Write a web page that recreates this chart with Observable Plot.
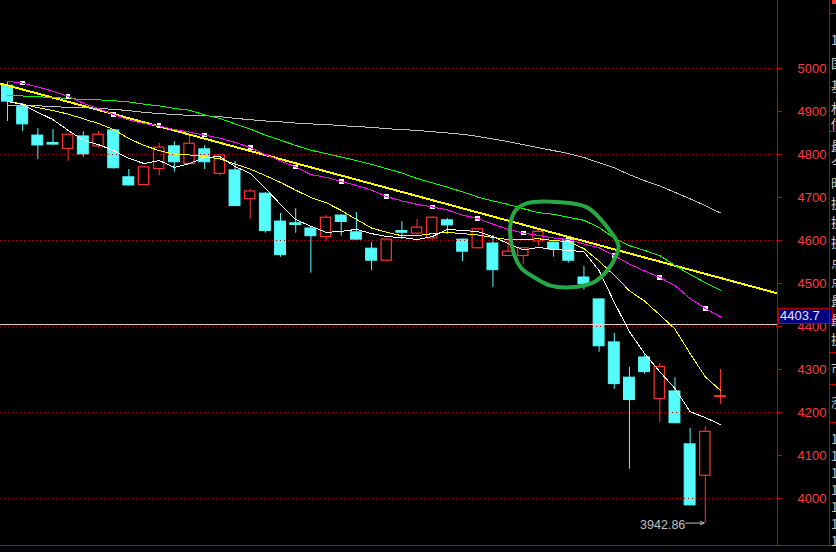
<!DOCTYPE html>
<html><head><meta charset="utf-8">
<script src="https://cdn.jsdelivr.net/npm/d3@7"></script>
<script src="https://cdn.jsdelivr.net/npm/@observablehq/plot@0.6"></script>
<style>
html,body{margin:0;padding:0;background:#000;overflow:hidden;}
#wrap{position:relative;width:836px;height:552px;overflow:hidden;background:#000;}
#wrap svg{position:absolute;left:0;top:0;}
.ov{position:absolute;}
</style></head><body><div id="wrap"></div>
<script>
// ---- data ----
const open  = [4960,4910,4844,4827,4813,4842,4819,4856,4747,4729,4766,4819,4778,4812,4755,4763,4696,4709,4644,4640,4628,4608,4658,4619,4581,4553,4622,4616,4605,4647,4602,4582,4593,4564,4564,4598,4595,4602,4514,4463,4363,4281,4328,4231,4249,4126,4053,4236];
const close = [4923,4870,4821,4823,4846,4800,4846,4768,4728,4770,4816,4782,4825,4782,4798,4680,4714,4622,4566,4636,4610,4653,4643,4602,4553,4602,4618,4630,4653,4635,4574,4626,4531,4574,4582,4620,4579,4553,4498,4354,4266,4229,4294,4306,4175,3984,4155,4238];
const high  = [4967,4919,4860,4858,4846,4853,4853,4858,4765,4774,4826,4830,4844,4821,4800,4784,4719,4711,4663,4674,4630,4658,4660,4665,4595,4603,4644,4649,4655,4651,4604,4628,4612,4600,4583,4623,4596,4608,4540,4463,4384,4305,4337,4314,4281,4163,4167,4300];
const low   = [4877,4853,4788,4821,4784,4794,4815,4766,4726,4728,4750,4759,4778,4765,4750,4680,4649,4617,4561,4617,4524,4598,4610,4598,4530,4551,4602,4612,4601,4614,4551,4580,4491,4563,4543,4587,4561,4547,4485,4340,4254,4068,4289,4177,4175,3984,3942.86,4219];

const ma5  = [4923,4916,4898,4881,4856,4833,4823,4809,4791,4779,4786,4770,4779,4793,4795,4772,4756,4721,4684,4649,4633,4619,4621,4626,4616,4609,4607,4602,4609,4626,4623,4621,4609,4593,4578,4584,4579,4577,4574,4530,4456,4388,4337,4295,4256,4202,4188,4172];
const ma10 = [4924,4917,4909,4902,4894,4883,4872,4858,4837,4821,4809,4801,4799,4795,4790,4778,4766,4751,4735,4717,4700,4688,4670,4649,4629,4619,4611,4611,4616,4619,4616,4613,4607,4602,4602,4604,4600,4597,4581,4552,4519,4483,4459,4427,4394,4337,4283,4251];
const ma20 = [4970,4966,4957,4947,4935,4919,4907,4893,4880,4872,4867,4858,4852,4845,4838,4828,4816,4800,4785,4771,4753,4747,4737,4728,4717,4702,4692,4684,4678,4671,4659,4651,4638,4626,4617,4612,4606,4602,4592,4583,4565,4545,4529,4514,4495,4465,4442,4422];
const ma30 = [4937,4936,4934,4933,4930,4928,4927,4925,4922,4917,4913,4907,4903,4892,4884,4871,4859,4845,4833,4821,4810,4802,4794,4786,4777,4767,4757,4744,4734,4724,4713,4701,4692,4684,4674,4665,4661,4654,4647,4630,4606,4588,4577,4565,4542,4521,4502,4484];
const ma60 = [4915,4914,4913,4912,4909,4909,4907,4905,4902,4898,4895,4893,4891,4890,4888,4884,4881,4878,4876,4873,4871,4870,4867,4865,4863,4860,4858,4856,4853,4850,4847,4842,4836,4830,4823,4816,4809,4802,4793,4781,4769,4753,4739,4727,4712,4697,4681,4664];

// hand-drawn straight trend line (index, price)
const trendIdx = [-0.46, 50.76];
const trendVal = [4965, 4477];

// hand-drawn green loop (index, price)
const loopIdx = [34.26,36.45,38.21,39.53,40.28,40.08,39.53,38.65,37.11,35.79,34.69,33.82,33.27,33.16,33.49];
const loopVal = [4687,4689,4677,4631,4588,4561,4530,4503,4491,4495,4515,4538,4584,4639,4670];

const gridLevels = [5000,4800,4600,4400,4200,4000];
const yTicks = [4000,4100,4200,4300,4400,4500,4600,4700,4800,4900,5000];
const lastPrice = 4403.7;
const lowestIndex = 46;

// ---- build ----
const idx = d3.range(open.length);
const candles = idx.map(i => ({i, o: open[i], c: close[i], h: high[i], l: low[i], up: close[i] >= open[i]}));
const upC = candles.filter(d => d.up), dnC = candles.filter(d => !d.up);
const trend = trendIdx.map((x, k) => ({i: x, v: trendVal[k]}));
const loop = loopIdx.map((x, k) => ({i: x, v: loopVal[k]}));
const RED = "#ff3232", CYAN = "#54fcfc";
const crisp = {shapeRendering: "crispEdges"};
const line = (arr, stroke, w = 1) => Plot.line(idx, {x: i => i, y: i => arr[i], stroke, strokeWidth: w, ...crisp});

const chart = Plot.plot({
  width: 836, height: 552,
  marginLeft: 0, marginRight: 59, marginTop: 0, marginBottom: 6,
  style: {background: "#000", fontFamily: "Liberation Sans, Arial, sans-serif", fontSize: "13px"},
  x: {type: "linear", domain: [-0.461, 50.76], axis: null},
  y: {domain: [3888.4, 5158.1], axis: null},
  marks: [
    Plot.ruleX(candles, {x: "i", y1: "l", y2: "h", stroke: d => d.up ? RED : CYAN}),
    Plot.rect(dnC, {x1: d => d.i - 0.36, x2: d => d.i + 0.36, y1: "o", y2: "c", fill: CYAN, stroke: CYAN, strokeWidth: 1}),
    Plot.rect(upC, {x1: d => d.i - 0.34, x2: d => d.i + 0.34, y1: "o", y2: "c", fill: "#000", stroke: RED, strokeWidth: 1.2}),
    Plot.ruleY(gridLevels, {stroke: "#b00000", strokeDasharray: "1,3", ...crisp}),
    Plot.ruleY([lastPrice], {stroke: "#d8d8d8", ...crisp}),
    Plot.line(trend, {x: "i", y: "v", stroke: "#ffff00", strokeWidth: 2, ...crisp}),
    line(ma60, "#c0c0c0"),
    line(ma30, "#00ff00"),
    Plot.dot(idx.filter(i => i % 3 === 1), {x: i => i, y: i => ma20[i], symbol: "square", r: 2.6, fill: "#ffffff", ...crisp}),
    line(ma20, "#ff00ff"),
    line(ma10, "#ffff00"),
    line(ma5, "#ffffff"),
    Plot.line(loop, {x: "i", y: "v", curve: "catmull-rom-closed", stroke: "#25a845", strokeWidth: 4}),
    Plot.ruleX([50.76], {stroke: "#c80000", ...crisp}),
    Plot.axisY({anchor: "right", ticks: yTicks, tickSize: 4, tickPadding: 16, stroke: "#c80000", fill: "#ff3c3c", fontSize: 13, tickFormat: d => String(d)}),
    Plot.arrow([candles[lowestIndex]], {x1: d => d.i - 1.3, x2: d => d.i - 0.08, y1: "l", y2: "l", stroke: "#c0c0c0", headLength: 6, headAngle: 50, strokeWidth: 1}),
    Plot.text([candles[lowestIndex]], {x: "i", y: "l", text: d => d3.format(".2f")(d.l), dx: -20, dy: 1.5, textAnchor: "end", fill: "#c0c0c0", fontSize: 12.5})
  ]
});
const wrap = document.getElementById("wrap");
wrap.appendChild(chart);

// overlays: price label box, side panel
const ys = chart.scale("y");
function div(css, text) { const e = document.createElement("div"); e.className = "ov"; e.style.cssText = css; if (text != null) e.textContent = text; wrap.appendChild(e); return e; }
const yl = ys.apply(lastPrice);
div(`left:778px;top:${yl - 16.5}px;width:52px;height:14px;background:#000080;border:1px solid #b00000;color:#e8e8e8;font:13px 'Liberation Sans',Arial,sans-serif;line-height:14px;padding-left:1px;`, String(lastPrice));
// bottom border and side panel lines
div("left:0;top:545px;width:836px;height:1px;background:#c80000;");
div("left:829px;top:0;width:1px;height:546px;background:#c80000;");
[13,131,352,384,422].forEach(y => div(`left:829px;top:${y}px;width:8px;height:1px;background:#c80000;`));
div("left:832px;top:0;width:4px;height:4px;background:#ff3232;");
const side = [["1",40],["国",63],["基",86],["林",108],["估",124],["最",146],["今",163],["时",183],["换",203],["换",222],["换",242],["点",262],["点",281],["最",301],["最",320],["换",339],["市",368],["涨",402],["1",439],["1",456],["1",473],["1",490],["1",507],["1",524],["1",541]];
side.forEach(([t, y]) => div(`left:831px;top:${y - 7}px;color:#c8c8c8;font:13px 'Noto Sans CJK SC',sans-serif;line-height:14px;height:14px;overflow:hidden;white-space:nowrap;`, t));
</script></body></html>
